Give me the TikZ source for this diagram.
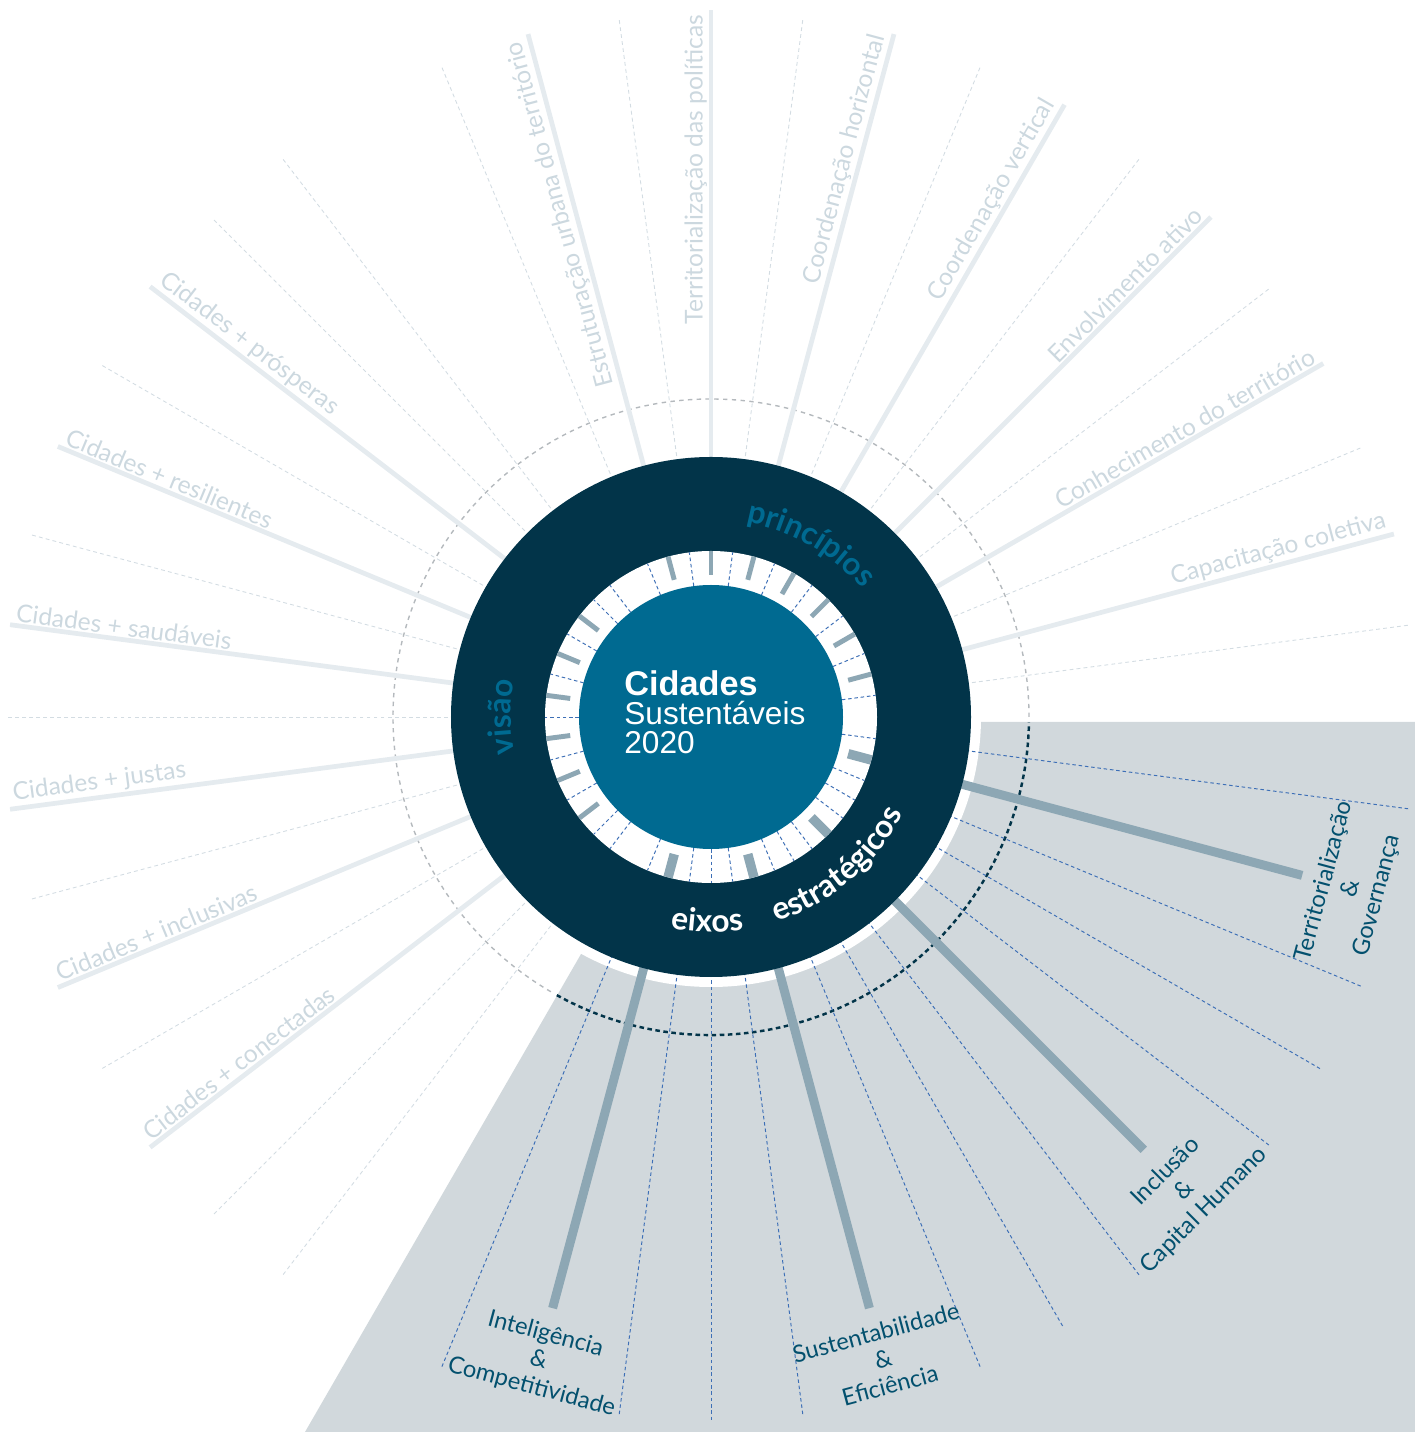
\documentclass[tikz,border=0pt]{standalone}
\usepackage{fontspec}
\usepackage{xcolor}
\usepackage{tikz}
\usetikzlibrary{decorations.text}
\setmainfont{Lato}
\newfontfamily\helvfont{Liberation Sans}
\definecolor{anel}{HTML}{023449}
\definecolor{miolo}{HTML}{006A91}
\definecolor{claro}{HTML}{E5EBEF}
\definecolor{textoclaro}{HTML}{CCD8DF}
\definecolor{tracoclaro}{HTML}{D3DCE2}
\definecolor{fundo}{HTML}{D1D8DC}
\definecolor{eixo}{HTML}{8DA7B4}
\definecolor{azul}{HTML}{3D6FB6}
\definecolor{rotulo}{HTML}{03506E}
\definecolor{cinza}{HTML}{B4B9BD}
\newcommand\letraprinc{\fontsize{18}{20}\selectfont\bfseries\color{miolo}}
\newcommand\letraeixo{\fontsize{18}{20}\selectfont\bfseries\color{white}}

\tikzset{
  raio/.style={line width=2.7pt, claro},
  raiotrac/.style={line width=0.5pt, tracoclaro, dash pattern=on 2.2pt off 1.8pt},
  eixoraio/.style={line width=5.1pt, eixo},
  eixotrac/.style={line width=0.55pt, azul, dash pattern=on 2pt off 1.6pt},
  nomeclaro/.style={font=\fontsize{14}{16}\selectfont, text=textoclaro, inner sep=2pt},
  nomeeixo/.style={font=\fontsize{13.5}{15.5}\selectfont, text=rotulo, align=center, inner sep=0pt},
}

\begin{document}
\begin{tikzpicture}[x=0.02cm, y=0.02cm]
  \useasboundingbox (-711,-715) rectangle (704,717);

  % Setor dos eixos
  \fill[fundo] (4,-5) -- (704,-5) -- (704,-715) -- (-406,-715) -- cycle;
  \fill[white] (0,0) circle[radius=270];

  % Circulo tracejado
  \draw[cinza, line width=0.8pt, dash pattern=on 2.5pt off 2.5pt] (0:318) arc[start angle=0, end angle=240, radius=318];
  \draw[anel, line width=1.4pt, dash pattern=on 2.6pt off 2pt] (-119:318) arc[start angle=-119, end angle=-1, radius=318];

  % Raios claros (princípios e visão)
  \foreach \ang in {7.5,22.5,37.5,52.5,67.5,82.5,97.5,112.5,127.5,135,150,165,180,195,210,225,232.5}
    \draw[raiotrac] (\ang:200) -- (\ang:705);
  \foreach \ang in {15,30,45,60,75,90,105,142.5,157.5,172.5,187.5,202.5,217.5}
    \draw[raio] (\ang:200) -- (\ang:707);

  % Raios dos eixos
  \foreach \ang in {-7.5,-22.5,-30,-37.5,-52.5,-60,-67.5,-82.5,-90,-97.5,-112.5}
    \draw[eixotrac] (\ang:200) -- (\ang:705);
  \foreach \ang in {-15,-45,-75,-105}
    \draw[eixoraio] (\ang:200) -- (\ang:612);

  % Anel
  \fill[anel] (0,0) circle[radius=260];
  \fill[white] (0,0) circle[radius=166];
  \foreach \ang in {7.5,22.5,37.5,52.5,67.5,82.5,97.5,112.5,127.5,135,150,165,180,195,210,225,232.5,
                    -7.5,-22.5,-30,-37.5,-52.5,-60,-67.5,-82.5,-90,-97.5,-112.5}
    \draw[eixotrac] (\ang:132) -- (\ang:166);
  \foreach \ang in {15,30,45,60,75,90,105,142.5,157.5,172.5,187.5,202.5,217.5}
    \draw[eixo, line width=2.8pt] (\ang:142) -- (\ang:166);
  \foreach \ang in {-15,-45,-75,-105}
    \draw[eixo, line width=5.4pt] (\ang:142) -- (\ang:166);
  \fill[miolo] (0,0) circle[radius=132];

  % Centro
  \node[font=\helvfont\fontsize{18}{16.5}\selectfont, text=white, align=left, anchor=north west, inner sep=0pt]
    (titulo) at (-87,47) {{\fontsize{19.5}{16.5}\selectfont\bfseries Cidades}\\Sustentáveis\\2020};

  % Textos do anel
  \path[decorate, decoration={text along path, text align=center, text={|\letraprinc|princípios}}]
    (120:198) arc[start angle=120, end angle=0, radius=198];
  \path[decorate, decoration={text along path, text align=center, text={|\letraprinc|visão}}]
    (200:200) arc[start angle=200, end angle=160, radius=200];
  \path[decorate, decoration={text along path, text align=center, text={|\letraeixo|eixos}}]
    (-111:215) arc[start angle=-111, end angle=-71, radius=215];
  \path[decorate, decoration={text along path, text align=center, text={|\letraeixo|estratégicos}}]
    (-80:215) arc[start angle=-80, end angle=-19, radius=215];

  % Princípios
  \foreach \ang/\lbl [count=\i] in {15/Capacitação coletiva, 30/Conhecimento do território,
                                    45/Envolvimento ativo, 60/Coordenação vertical,
                                    75/Coordenação horizontal, 90/Territorialização das políticas,
                                    105/Estruturação urbana do território}
    \node[nomeclaro, rotate=\ang, anchor=south east] (princ\i) at (\ang:706) {\lbl};

  % Visão
  \foreach \ang/\lbl [count=\i] in {142.5/prósperas, 157.5/resilientes, 172.5/saudáveis,
                                    187.5/justas, 202.5/inclusivas, 217.5/conectadas}
    \node[nomeclaro, rotate=\ang-180, anchor=south west] (visao\i) at (\ang:706) {Cidades + \lbl};

  % Eixos estratégicos
  \foreach \ang/\nm/\r/\lbl in {-15/terr/624/{Territorialização\\\&\\Governança},
                                -45/incl/632/{Inclusão\\\&\\Capital Humano},
                                -75/sust/628/{Sustentabilidade\\\&\\Eficiência},
                                -105/intel/628/{Inteligência\\\&\\Competitividade}}
    \node[nomeeixo, rotate=\ang+90, anchor=north] (\nm) at (\ang:\r) {\lbl};
\end{tikzpicture}
\end{document}
